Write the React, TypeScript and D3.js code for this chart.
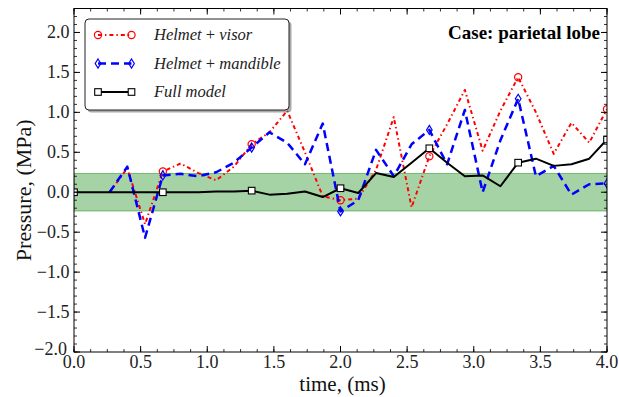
import React from "react";
import * as d3 from "d3";

const times = [0, 0.1333, 0.2667, 0.4, 0.5333, 0.6667, 0.8, 0.9333, 1.0667, 1.2, 1.3333, 1.4667, 1.6, 1.7333, 1.8667, 2.0, 2.1333, 2.2667, 2.4, 2.5333, 2.6667, 2.8, 2.9333, 3.0667, 3.2, 3.3333, 3.4667, 3.6, 3.7333, 3.8667, 4.0];

const visor: (number | null)[] = [null, null, 0, 0.3, -0.4, 0.26, 0.36, 0.24, 0.15, 0.32, 0.6, 0.75, 1.02, 0.5, -0.05, -0.1, -0.08, 0.28, 0.94, -0.19, 0.45, 0.85, 1.28, 0.52, 1.02, 1.44, 1.0, 0.48, 0.87, 0.62, 1.04];
const mandible: (number | null)[] = [null, null, 0, 0.32, -0.57, 0.21, 0.23, 0.2, 0.25, 0.37, 0.56, 0.75, 0.62, 0.35, 0.86, -0.24, -0.1, 0.53, 0.2, 0.6, 0.78, 0.35, 1.03, 0.0, 0.65, 1.17, 0.2, 0.33, -0.03, 0.1, 0.11];
const fullModel: (number | null)[] = [0, 0, 0, 0, 0, 0, 0, 0, 0.01, 0.01, 0.02, -0.03, -0.02, 0.01, -0.06, 0.05, -0.01, 0.24, 0.19, 0.37, 0.55, 0.37, 0.2, 0.21, 0.075, 0.37, 0.42, 0.33, 0.35, 0.42, 0.66];

const markerIdx = [0, 5, 10, 15, 20, 25, 30];
const xTicks = [0, 0.5, 1, 1.5, 2, 2.5, 3, 3.5, 4];
const yTicks = [-2, -1.5, -1, -0.5, 0, 0.5, 1, 1.5, 2];
const bandLimit = 0.235;
const legendLabels = [["Helmet", "visor"], ["Helmet", "mandible"], ["Full model", ""]];
const caseLabel = "Case: parietal lobe";

const W = 619, H = 397;
const L = 74, R = 607, T = 8.5, B = 352;
const x = d3.scaleLinear().domain([0, 4]).range([L, R]);
const y = d3.scaleLinear().domain([-2, 2.3]).range([B, T]);
const FONT = "'Liberation Serif', 'DejaVu Serif', serif";

function fmt(v: number) {
  const s = v.toFixed(1);
  return v < 0 ? "\u2212" + s.slice(1) : s;
}

function Circle({ cx, cy }: { cx: number; cy: number }) {
  return <circle cx={cx} cy={cy} r={3.6} fill="none" stroke="#ff0000" strokeWidth={1.2} />;
}
function Diamond({ cx, cy }: { cx: number; cy: number }) {
  return <path d={`M${cx},${cy - 4.5}L${cx + 2.8},${cy}L${cx},${cy + 4.5}L${cx - 2.8},${cy}Z`} fill="none" stroke="#0000ff" strokeWidth={1.2} />;
}
function Square({ cx, cy }: { cx: number; cy: number }) {
  return <rect x={cx - 3.3} y={cy - 3.3} width={6.6} height={6.6} fill="#fff" stroke="#000" strokeWidth={1.1} />;
}

export default function App() {
  const line = d3
    .line<number | null>()
    .defined((d) => d !== null)
    .x((_, i) => x(times[i]))
    .y((d) => y(d as number));

  const xMinor = d3.range(0, 4.0001, 0.125);
  const yMinor = d3.range(-20, 24, 1).map((v) => v / 10);

  const series = [
    { data: visor, color: "#ff0000", dash: "4,3,1.4,3", width: 2, M: Circle },
    { data: mandible, color: "#0000ff", dash: "8,5", width: 2.5, M: Diamond },
    { data: fullModel, color: "#000", dash: "", width: 2, M: Square },
  ];

  const lx = 85, ly = 19, lw = 204, lh = 91;
  const rows = [35, 63.5, 92];

  return (
    <svg width={W} height={H} style={{ position: "absolute", left: 0, top: 0, background: "#fff" }} fontFamily={FONT}>
      <defs>
        <clipPath id="plot">
          <rect x={L} y={T} width={R - L} height={B - T} />
        </clipPath>
      </defs>
      <g clipPath="url(#plot)">
        <rect x={L} y={y(bandLimit)} width={R - L} height={y(-bandLimit) - y(bandLimit)} fill="rgba(0,128,0,0.35)" stroke="rgba(0,128,0,0.45)" strokeWidth={1} />
        {series.map((s, si) => (
          <g key={si}>
            <path d={line(s.data) || ""} fill="none" stroke={s.color} strokeWidth={s.width} strokeDasharray={s.dash} strokeLinejoin="round" />
            {markerIdx.filter((i) => s.data[i] !== null).map((i) => (
              <s.M key={i} cx={x(times[i])} cy={y(s.data[i] as number)} />
            ))}
          </g>
        ))}
      </g>
      <rect x={L} y={T} width={R - L} height={B - T} fill="none" stroke="#000" strokeWidth={1} />
      {xMinor.map((v, i) => (
        <g key={"xm" + i} stroke="#000" strokeWidth={0.8}>
          <line x1={x(v)} x2={x(v)} y1={B} y2={B - 3} />
          <line x1={x(v)} x2={x(v)} y1={T} y2={T + 3} />
        </g>
      ))}
      {yMinor.map((v, i) => (
        <g key={"ym" + i} stroke="#000" strokeWidth={0.8}>
          <line x1={L} x2={L + 3} y1={y(v)} y2={y(v)} />
          <line x1={R} x2={R - 3} y1={y(v)} y2={y(v)} />
        </g>
      ))}
      {xTicks.map((v) => (
        <g key={"xt" + v}>
          <line x1={x(v)} x2={x(v)} y1={B} y2={B - 6} stroke="#000" />
          <line x1={x(v)} x2={x(v)} y1={T} y2={T + 6} stroke="#000" />
          <text x={x(v)} y={B + 16} textAnchor="middle" fontSize={18} fill="#222">{fmt(v)}</text>
        </g>
      ))}
      {yTicks.map((v) => (
        <g key={"yt" + v}>
          <line x1={L} x2={L + 6} y1={y(v)} y2={y(v)} stroke="#000" />
          <line x1={R} x2={R - 6} y1={y(v)} y2={y(v)} stroke="#000" />
          <text x={v === -2 ? L - 7 : L - 4.5} y={v === -2 ? y(v) + 3 : y(v) + 6} textAnchor="end" fontSize={18} fill="#222">{fmt(v)}</text>
        </g>
      ))}
      <text x={(L + R) / 2 + 2} y={391} textAnchor="middle" fontSize={21} fill="#111">time, (ms)</text>
      <text transform={`translate(31,${(T + B) / 2 + 10}) rotate(-90)`} textAnchor="middle" fontSize={22} fill="#111">Pressure, (MPa)</text>
      <text x={600} y={39} textAnchor="end" fontSize={19} fill="#000" fontWeight={700}>{caseLabel}</text>
      <rect x={lx + 2.5} y={ly + 2.5} width={lw} height={lh} rx={4} fill="#555" opacity={0.5} />
      <rect x={lx} y={ly} width={lw} height={lh} rx={4} fill="#fff" stroke="#222" strokeWidth={1} />
      {series.map((s, si) => (
        <g key={"lg" + si}>
          <line x1={98} x2={131.5} y1={rows[si]} y2={rows[si]} stroke={s.color} strokeWidth={s.width} strokeDasharray={s.dash} />
          <s.M cx={98} cy={rows[si]} />
          <s.M cx={131.5} cy={rows[si]} />
          <text x={154} y={rows[si] + 5} fontSize={16.5} fill="#222">
            {legendLabels[si][1] ? (
              <>
                <tspan fontStyle="italic">{legendLabels[si][0]}</tspan>
                <tspan> + </tspan>
                <tspan fontStyle="italic">{legendLabels[si][1]}</tspan>
              </>
            ) : (
              <tspan fontStyle="italic">{legendLabels[si][0]}</tspan>
            )}
          </text>
        </g>
      ))}
    </svg>
  );
}
